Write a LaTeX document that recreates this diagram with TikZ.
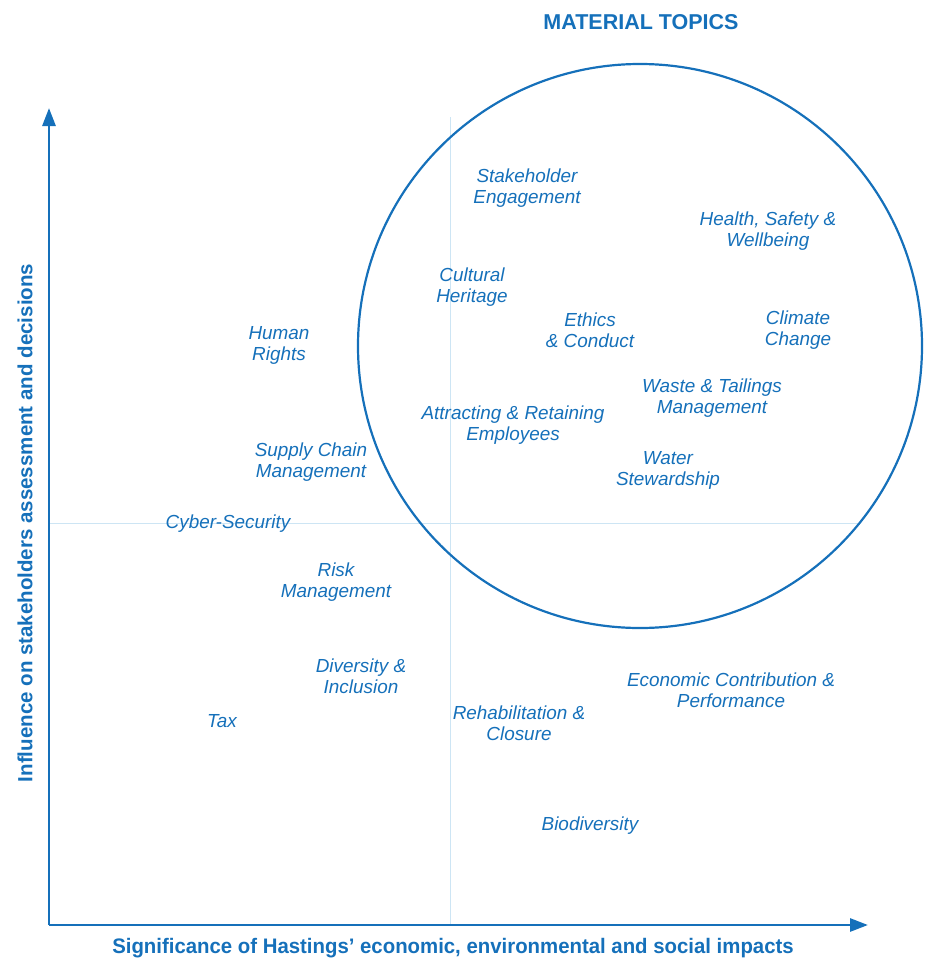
\documentclass[tikz,border=0pt]{standalone}
\usepackage{fontspec}
\setmainfont{Liberation Sans}
\newfontfamily\condfont[FakeStretch=0.97]{Liberation Sans}
\usetikzlibrary{arrows.meta}
\definecolor{mainblue}{HTML}{1570BA}
\definecolor{gridblue}{HTML}{CDE5F4}
\tikzset{
  topic/.style={text=mainblue, font=\itshape\fontsize{18.9}{21}\selectfont, align=center, inner sep=0pt},
  axis/.style={draw=mainblue, line width=2.8pt, -{Triangle[length=18pt,width=13pt]}},
  guide/.style={draw=gridblue, line width=1pt},
}
\begin{document}
\begin{tikzpicture}[x=1pt,y=-1pt]
\useasboundingbox (0,0) rectangle (933,964);
% quadrant guides
\coordinate (vtop) at (450,117);
\coordinate (vbot) at (450,925);
\coordinate (hl) at (49,523);
\coordinate (hr) at (860,523);
\draw[guide] (vtop) -- (vbot);
\draw[guide] (hl) -- (hr);
% axes
\coordinate (origin) at (49,925);
\coordinate (ytip) at (49,108);
\coordinate (xtip) at (868,925);
\draw[axis] (origin) -- (ytip);
\draw[axis] (origin) -- (xtip);
% material topics circle
\node[draw=mainblue, line width=2.2pt, circle, minimum size=564pt, inner sep=0pt] (mat) at (640,346) {};
\node[text=mainblue, font=\bfseries\fontsize{21.5}{26}\selectfont] (title) at (641,22) {MATERIAL TOPICS};
% axis titles
\node[text=mainblue, font=\bfseries\fontsize{20.5}{24}\selectfont, rotate=90] (ylab) at (25,523) {Influence on stakeholders assessment and decisions};
\node[text=mainblue, font=\condfont\bfseries\fontsize{21}{24}\selectfont] (xlab) at (453,948) {Significance of Hastings’ economic, environmental and social impacts};
% topics
\node[topic] (t1) at (527,188) {Stakeholder\\Engagement};
\node[topic] (t2) at (768,231) {Health, Safety \&\\Wellbeing};
\node[topic] (t3) at (472,287) {Cultural\\Heritage};
\node[topic] (t4) at (590,330) {Ethics\\\& Conduct};
\node[topic] (t5) at (798,330) {Climate\\Change};
\node[topic] (t6) at (279,345) {Human\\Rights};
\node[topic] (t7) at (712,398) {Waste \& Tailings\\Management};
\node[topic] (t8) at (513,425) {Attracting \& Retaining\\Employees};
\node[topic] (t9) at (311,462) {Supply Chain\\Management};
\node[topic] (t10) at (668,470) {Water\\Stewardship};
\node[topic] (t11) at (228,524) {Cyber-Security};
\node[topic] (t12) at (336,582) {Risk\\Management};
\node[topic] (t13) at (361,676) {Diversity \&\\Inclusion};
\node[topic] (t14) at (731,690) {Economic Contribution \&\\Performance};
\node[topic] (t15) at (222,721) {Tax};
\node[topic] (t16) at (519,723) {Rehabilitation \&\\Closure};
\node[topic] (t17) at (590,826) {Biodiversity};
\end{tikzpicture}
\end{document}
